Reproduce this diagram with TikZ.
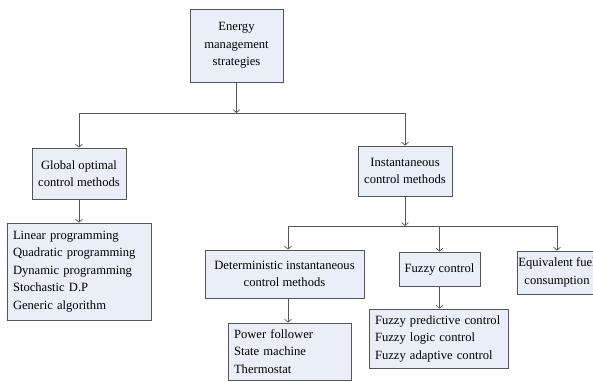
\documentclass[tikz,border=0pt]{standalone}
\usepackage{fontspec}
\setmainfont{Liberation Serif}
\usetikzlibrary{arrows.meta}
\definecolor{boxfill}{HTML}{E9EEF8}
\definecolor{edge}{HTML}{555555}
\begin{document}
\begin{tikzpicture}[x=1pt,y=-1pt,
 box/.style={draw=edge, line width=0.8pt, fill=boxfill, inner sep=0pt, align=center,
   font=\fontsize{12.6}{17.5}\selectfont},
 listbox/.style={box, align=left, inner xsep=6pt},
 arr/.style={draw=edge, line width=0.7pt, -{Straight Barb[length=3pt,width=7pt]}}]
\useasboundingbox (0,0) rectangle (593,381);
\clip (0,0) rectangle (593,381);
\node[box, minimum width=93pt, minimum height=73pt] (E) at (236.5,45.5) {Energy\\management\\strategies};
\node[box, minimum width=94pt, minimum height=51pt] (G) at (79,173.5) {Global optimal\\control methods};
\node[box, minimum width=94pt, minimum height=50pt] (I) at (405,171) {Instantaneous\\control methods};
\node[listbox, text width=132pt, minimum height=97pt] (GL) at (79,271.5) {Linear programming\\Quadratic programming\\Dynamic programming\\Stochastic D.P\\Generic algorithm};
\node[box, minimum width=159pt, minimum height=48pt] (D) at (284.5,274) {Deterministic instantaneous\\control methods};
\node[box, minimum width=81pt, minimum height=34pt] (F) at (439.5,269) {Fuzzy control};
\node[box, minimum width=80pt, minimum height=43pt] (Q) at (557,272.5) {Equivalent fuel\\consumption};
\node[listbox, text width=111pt, minimum height=57pt] (P) at (289.5,351.5) {Power follower\\State machine\\Thermostat};
\node[listbox, text width=127pt, minimum height=59pt] (FL) at (438.5,338.5) {Fuzzy predictive control\\Fuzzy logic control\\Fuzzy adaptive control};
\coordinate (j1) at (236.5,113);
\coordinate (j2) at (405,226);
\coordinate (dtop) at ([xshift=3.5pt]D.north);
\coordinate (dbot) at ([xshift=3.5pt]D.south);
\draw[arr] (E.south) -- (j1);
\draw[arr] (j1) -| (G.north);
\draw[arr] (j1) -| (I.north);
\draw[arr] (G.south) -- (GL.north);
\draw[arr] (I.south) -- (j2);
\draw[arr] (j2) -| (dtop);
\draw[arr] (j2) -| (F.north);
\draw[arr] (j2) -| (Q.north);
\draw[arr] (dbot) -- (dbot |- P.north);
\draw[arr] (F.south) -- (F.south |- FL.north);
\end{tikzpicture}
\end{document}
